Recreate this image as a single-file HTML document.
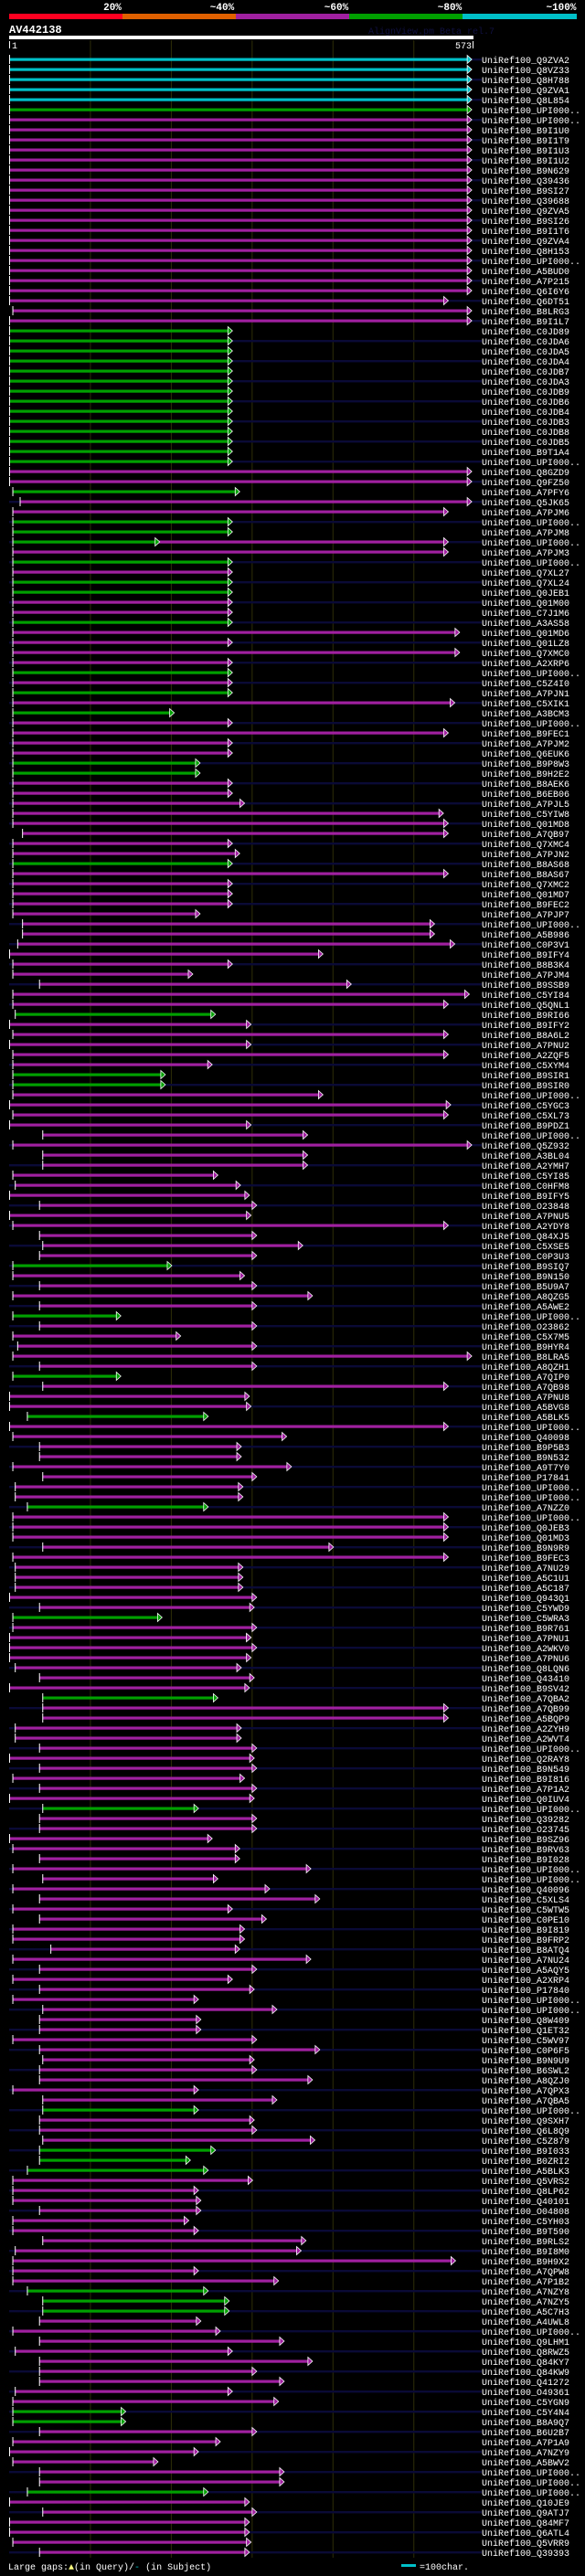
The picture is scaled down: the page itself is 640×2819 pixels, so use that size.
<!DOCTYPE html>
<html><head><meta charset="utf-8">
<style>
html,body{margin:0;padding:0;background:#000;}
body{width:640px;height:2819px;overflow:hidden;position:relative;font-family:"Liberation Mono",monospace;}
svg{position:absolute;left:0;top:0;}
</style></head>
<body>
<svg id="chart" width="640" height="2819" xmlns="http://www.w3.org/2000/svg">
  <g>
    <rect x="10" y="15" width="124" height="6" fill="#ff0020"/>
    <rect x="134" y="15" width="124" height="6" fill="#e06000"/>
    <rect x="258" y="15" width="124" height="6" fill="#a020a0"/>
    <rect x="382" y="15" width="124" height="6" fill="#00a000"/>
    <rect x="506" y="15" width="125" height="6" fill="#00c0c8"/>
    <g fill="#fff" font-family="Liberation Mono, monospace" font-size="11" font-weight="bold" text-anchor="middle">
      <text x="123" y="11">20%</text>
      <text x="243" y="11">~40%</text>
      <text x="368" y="11">~60%</text>
      <text x="492" y="11">~80%</text>
      <text x="614" y="11">~100%</text>
    </g>
  </g>
  <text x="10" y="36" fill="#fff" font-size="12" font-weight="bold">AV442138</text>
  <text x="403" y="37" fill="#101040" font-size="10">AlignView.pm Beta rel.7</text>
  <rect x="10" y="39" width="508" height="4" fill="#fff"/>
  <rect x="10" y="45" width="1" height="8" fill="#fff"/>
  <text x="13" y="53" fill="#fff" font-size="10">1</text>
  <text x="516" y="53" fill="#fff" font-size="10" text-anchor="end">573</text>
  <rect x="517" y="45" width="1" height="8" fill="#fff"/>
  <g id="grid"></g>
  <g id="rows"></g>
  <text x="9" y="2812" fill="#fff" font-size="10">Large gaps:<tspan fill="#ffff80">▲</tspan>(in Query)/<tspan fill="#00c0c8">-</tspan> (in Subject)</text>
  <rect x="439" y="2806" width="16" height="3" fill="#00c0c8"/>
  <text x="459" y="2812" fill="#fff" font-size="10">=100char.</text>
</svg>
<script>
const labels = ["Q9ZVA2","Q8VZ33","Q8H788","Q9ZVA1","Q8L854","UPI000..","UPI000..","B9I1U0","B9I1T9","B9I1U3","B9I1U2","B9N629","Q39436","B9SI27","Q39688","Q9ZVA5","B9SI26","B9I1T6","Q9ZVA4","Q8H153","UPI000..","A5BUD0","A7P215","Q6I6Y6","Q6DT51","B8LRG3","B9I1L7",
"C0JD89","C0JDA6","C0JDA5","C0JDA4","C0JDB7","C0JDA3","C0JDB9","C0JDB6","C0JDB4","C0JDB3","C0JDB8","C0JDB5","B9T1A4","UPI000..","Q8GZD9","Q9FZ50","A7PFY6","Q5JK65","A7PJM6","UPI000..","A7PJM8","UPI000..","A7PJM3","UPI000..","Q7XL27","Q7XL24","Q0JEB1",
"Q01M00","C7J1M6","A3AS58","Q01MD6","Q01LZ8","Q7XMC0","A2XRP6","UPI000..","C5Z4I0","A7PJN1","C5XIK1","A3BCM3","UPI000..","B9FEC1","A7PJM2","Q6EUK6","B9P8W3","B9H2E2","B8AEK6","B6EB06","A7PJL5","C5YIW8","Q01MD8","A7QB97","Q7XMC4","A7PJN2",
"B8AS68","B8AS67","Q7XMC2","Q01MD7","B9FEC2","A7PJP7","UPI000..","A5B986","C0P3V1","B9IFY4","B8B3K4","A7PJM4","B9SSB9","C5YI84","Q5QNL1","B9RI66","B9IFY2","B8A6L2","A7PNU2","A2ZQF5","C5XYM4","B9SIR1","B9SIR0","UPI000..","C5YGC3","C5XL73","B9PDZ1",
"UPI000..","Q5Z932","A3BL04","A2YMH7","C5YI85","C0HFM8","B9IFY5","O23848","A7PNU5","A2YDY8","Q84XJ5","C5XSE5","C0P3U3","B9SIQ7","B9N150","B5U9A7","A8QZG5","A5AWE2","UPI000..","O23862","C5X7M5","B9HYR4","B8LRA5","A8QZH1","A7QIP0","A7QB98","A7PNU8",
"A5BVG8","A5BLK5","UPI000..","Q40098","B9P5B3","B9N532","A9T7Y0","P17841","UPI000..","UPI000..","A7NZZ0","UPI000..","Q0JEB3","Q01MD3","B9N9R9","B9FEC3","A7NU29","A5C1U1","A5C187","Q943Q1","C5YWD9","C5WRA3","B9R761","A7PNU1","A2WKV0","A7PNU6","Q8LQN6",
"Q43410","B9SV42","A7QBA2","A7QB99","A5BQP9","A2ZYH9","A2WVT4","UPI000..","Q2RAY8","B9N549","B9I816","A7P1A2","Q0IUV4","UPI000..","Q39282","O23745","B9SZ96","B9RV63","B9I028","UPI000..","UPI000..","Q40096","C5XLS4","C5WTW5","C0PE10","B9I819","B9FRP2",
"B8ATQ4","A7NU24","A5AQY5","A2XRP4","P17840","UPI000..","UPI000..","Q8W409","Q1ET32","C5WV97","C0P6F5","B9N9U9","B6SWL2","A8QZJ0","A7QPX3","A7QBA5","UPI000..","Q9SXH7","Q6L8Q9","C5Z879","B9I033","B0ZRI2","A5BLK3","Q5VRS2","Q8LP62","Q40101","O04808",
"C5YH03","B9T590","B9RLS2","B9I8M0","B9H9X2","A7QPW8","A7P1B2","A7NZY8","A7NZY5","A5C7H3","A4UWL8","UPI000..","Q9LHM1","Q8RWZ5","Q84KY7","Q84KW9","Q41272","O49361","C5YGN9","C5Y4N4","B8A9Q7","B6U2B7","A7P1A9","A7NZY9","A5BWV2",
"UPI000..","UPI000..","UPI000..","Q10JE9","Q9ATJ7","Q84MF7","Q6ATL4","Q5VRR9","Q39393"];
const identityClass = ("ccccc" + "g" + "m".repeat(21) +
 "gggggggggggggg" + "mm" + "g" + "mm" + "gg" + "g" + "m" + "g" + "m" + "gg" +
 "mm" + "g" + "mmmm" + "g" + "m" + "g" + "m" + "g" + "mmmm" + "gg" + "mmmmmmmm" +
 "g" + "mmmmmmmmmmmmmm" + "g" + "mmmmm" + "gg" + "mmmm" +
 "mmmmmmmmmmmmm" + "g" + "mmmm" + "g" + "mmmmm" + "g" + "mm" +
 "m" + "g" + "mmmmmmmm" + "g" + "mmmmmmmmmm" + "g" + "mmmmm" +
 "mm" + "g" + "mmmmmmmmmm" + "g" + "mmmmmmmmmmmmm" +
 "mmmmmmmmmmmmmmmm" + "g" + "mmm" + "ggg" + "mmmm" +
 "mmmmmmm" + "ggg" + "mmmmmmmmm" + "gg" + "mmmm" +
 "mm" + "g" + "mmmmmm").split("");
const starts = [0,0,0,0,0,0,0,0,0,0,0,0,0,0,0,0,0,0,0,0,0,0,0,0,0,4,0,
0,0,0,0,0,0,0,0,0,0,0,0,0,0,0,0,4,13,4,4,4,4,4,4,4,4,4,
4,4,4,4,4,4,4,4,4,4,4,4,4,4,4,4,4,4,4,4,4,4,4,16,4,4,
4,4,4,4,4,4,16,16,10,0,4,4,37,4,4,7,0,4,0,4,4,4,4,4,0,4,0,
41,4,41,41,4,7,0,37,0,4,37,41,37,4,4,37,4,37,4,37,4,10,4,37,4,41,0,
0,22,0,4,37,37,4,41,7,7,22,4,4,4,41,4,7,7,7,0,37,4,4,0,0,0,7,
37,0,41,41,41,7,7,37,0,37,4,37,0,41,37,37,0,4,37,4,41,4,37,4,37,4,4,
51,4,37,4,37,4,41,37,37,4,37,41,37,37,4,41,41,37,37,41,37,37,22,4,4,4,37,
4,4,41,7,4,4,4,22,41,41,37,4,37,7,37,37,37,7,4,4,4,37,4,0,4,
37,37,22,0,41,0,0,4,37];
const ends = [566,566,566,566,566,566,566,566,566,566,566,566,566,566,566,566,566,566,566,566,566,566,566,566,537,566,566,
270,270,270,270,270,270,270,270,270,270,270,270,270,270,566,566,279,566,537,270,270,180,537,270,270,270,270,
270,270,270,551,270,551,270,270,270,270,545,198,270,537,270,270,230,230,270,270,285,531,537,537,270,279,
270,537,270,270,270,230,520,520,545,382,270,221,417,563,537,249,293,537,293,537,245,187,187,382,540,537,293,
363,566,363,363,252,280,291,300,293,537,300,357,300,195,285,300,369,300,132,300,206,300,566,300,132,537,291,
293,240,537,337,281,281,343,300,283,283,240,537,537,537,395,537,283,283,283,300,297,183,300,293,300,293,281,
297,291,252,537,537,281,281,300,297,300,285,300,297,228,300,300,245,279,279,367,252,316,378,270,312,285,285,
279,367,300,270,297,228,325,231,231,300,378,297,300,369,228,325,228,297,300,372,249,218,240,295,228,231,231,
216,228,361,355,546,228,327,240,266,266,231,255,334,270,369,300,334,270,327,138,138,300,255,228,178,
334,334,240,291,300,291,291,293,291];
const extraRows = [48, 157];
const extraClass = ["m", "m"];
const extraEnds = [537, 293];

const palette = {c:"#00c0c8", g:"#00a000", m:"#a020a0"};
const NS = "http://www.w3.org/2000/svg";
const xScale = c => 10.5 + c * 0.8845;
const yScale = i => 65 + i * 11;

const grid = document.getElementById('grid');
[100,200,300,400,500].forEach(t => {
  const l = document.createElementNS(NS, 'rect');
  l.setAttribute('x', xScale(t) - 0.5); l.setAttribute('y', 44);
  l.setAttribute('width', 1); l.setAttribute('height', 2755);
  l.setAttribute('fill', '#2e2e08');
  
  
  grid.appendChild(l);
});

const rowsG = document.getElementById('rows');
function arrow(g, xe, y, col) {
  const p = document.createElementNS(NS, 'polygon');
  p.setAttribute('points', `${xe},${y-4.5} ${xe+5},${y} ${xe},${y+4.5}`);
  p.setAttribute('fill', col); p.setAttribute('stroke', '#fff'); p.setAttribute('stroke-width', '0.8');
  
  
  g.appendChild(p);
}
function bar(g, x0, x1, y, col) {
  const r = document.createElementNS(NS, 'rect');
  r.setAttribute('x', x0); r.setAttribute('y', y - 1.5);
  r.setAttribute('width', Math.max(0, x1 - x0)); r.setAttribute('height', 3.2);
  r.setAttribute('fill', col);
  
  
  g.appendChild(r);
}
labels.forEach((lab, i) => {
  const y = yScale(i);
  const g = document.createElementNS(NS, 'g');
  
  
  if (i % 2 === 0) {
    const t = document.createElementNS(NS, 'rect');
    t.setAttribute('x', 10); t.setAttribute('y', y - 1);
    t.setAttribute('width', 517); t.setAttribute('height', 2.4);
    t.setAttribute('fill', '#0a0a36');
    
    
    g.appendChild(t);
  }
  const col = palette[identityClass[i]] || palette.m;
  const x0 = xScale(starts[i]), x1 = xScale(ends[i]);
  bar(g, x0, x1, y, col);
  const tick = document.createElementNS(NS, 'rect');
  tick.setAttribute('x', x0 - 0.5); tick.setAttribute('y', y - 5);
  tick.setAttribute('width', 1); tick.setAttribute('height', 10);
  tick.setAttribute('fill', '#fff');
  
  
  g.appendChild(tick);
  const k = extraRows.indexOf(i);
  if (k >= 0) {
    const c2 = palette[extraClass[k]];
    bar(g, x1 + 4, xScale(extraEnds[k]), y, c2);
    arrow(g, x1, y, col);
    arrow(g, xScale(extraEnds[k]), y, c2);
  } else {
    arrow(g, x1, y, col);
  }
  const tx = document.createElementNS(NS, 'text');
  tx.setAttribute('x', 527); tx.setAttribute('y', y + 4);
  tx.setAttribute('fill', '#fff'); tx.setAttribute('font-size', '10');
  tx.setAttribute('font-family', 'Liberation Mono, monospace');
  tx.textContent = 'UniRef100_' + lab;
  
  
  g.appendChild(tx);
  rowsG.appendChild(g);
});
</script>
</body></html>
